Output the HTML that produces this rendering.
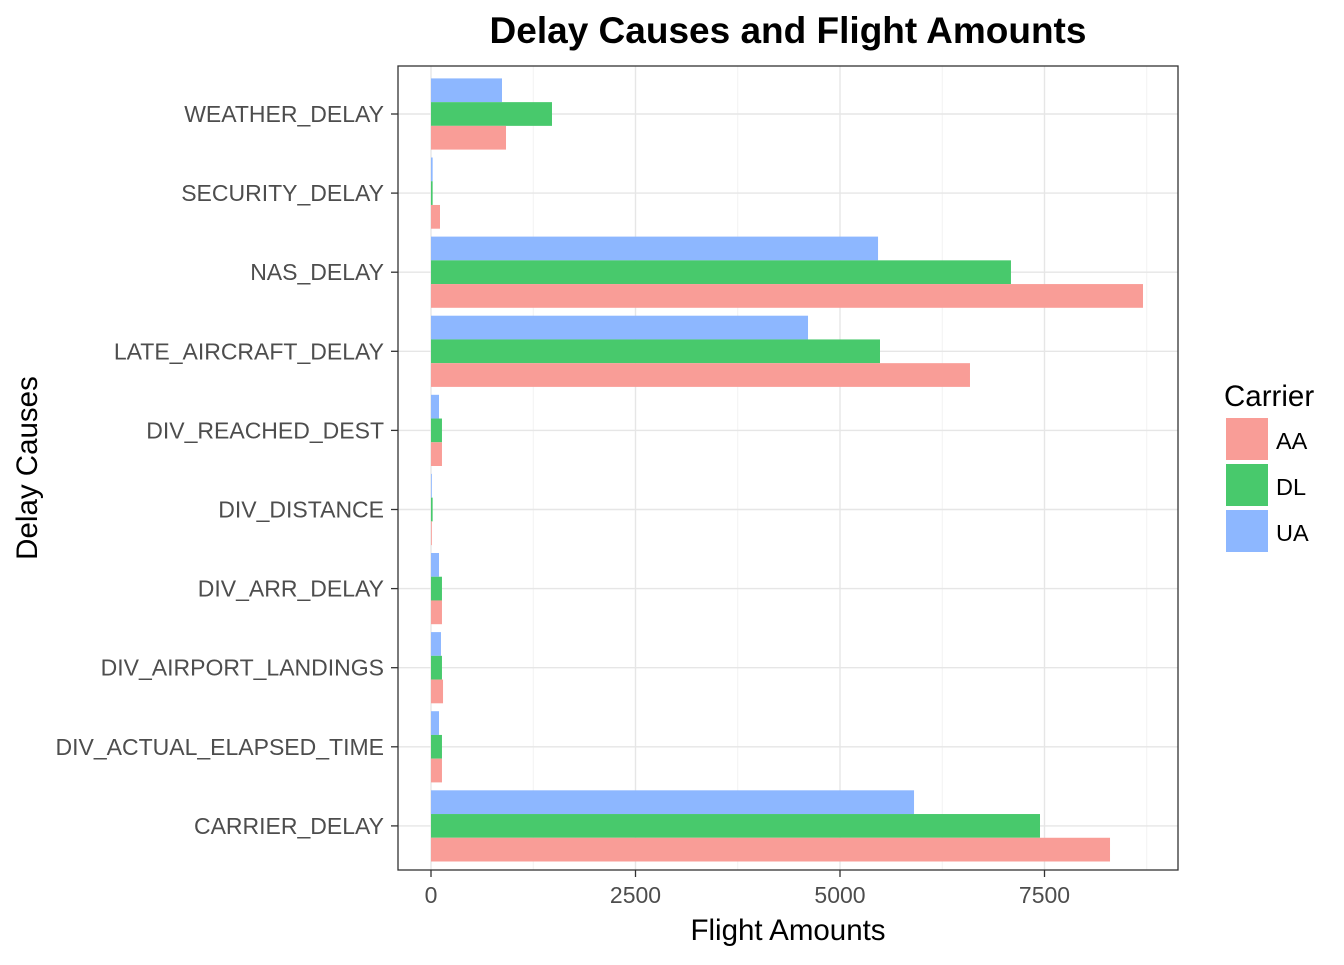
<!DOCTYPE html>
<html><head><meta charset="utf-8"><style>
body{margin:0;background:#fff;font-family:"Liberation Sans",Arial,sans-serif;}
</style></head><body>
<svg id="chart" width="1344" height="960" xmlns="http://www.w3.org/2000/svg">
<text x="788" y="43" text-anchor="middle" font-size="37" font-weight="bold" fill="#000">Delay Causes and Flight Amounts</text>
<g id="grid"></g>
<g id="bars"></g>
<rect x="398" y="66" width="780" height="804" fill="none" stroke="#333" stroke-width="1.3"/>
<g id="axes"></g>
<text x="788" y="940" text-anchor="middle" font-size="29.5" fill="#000">Flight Amounts</text>
<text transform="translate(37,468) rotate(-90)" text-anchor="middle" font-size="29.5" fill="#000">Delay Causes</text>
<g>
<text x="1224" y="406" font-size="29.5" fill="#000">Carrier</text>
<rect x="1226" y="418" width="42" height="42" fill="#f99d97"/>
<text x="1276" y="449" font-size="23.5">AA</text>
<rect x="1226" y="464" width="42" height="42" fill="#48c96c"/>
<text x="1276" y="495" font-size="23.5">DL</text>
<rect x="1226" y="510" width="42" height="42" fill="#8db7ff"/>
<text x="1276" y="541" font-size="23.5">UA</text>
</g>
</svg>
<script>
const categories=["WEATHER_DELAY","SECURITY_DELAY","NAS_DELAY","LATE_AIRCRAFT_DELAY","DIV_REACHED_DEST","DIV_DISTANCE","DIV_ARR_DELAY","DIV_AIRPORT_LANDINGS","DIV_ACTUAL_ELAPSED_TIME","CARRIER_DELAY"];
const uaValues=[868,20,5465,4609,98,10,98,122,98,5905];
const dlValues=[1479,20,7090,5489,134,20,134,134,134,7445];
const aaValues=[917,110,8704,6589,134,10,134,147,134,8301];
const xTicks=[0,2500,5000,7500];
const xTickLabels=["0","2500","5000","7500"];
const NS="http://www.w3.org/2000/svg";
const x0=431,pxPerUnit=204.5/2500;
const xs=v=>x0+v*pxPerUnit;
const yTop=114,step=79.1;
const ys=i=>yTop+i*step;
const band=step*0.9,bw=band/3;
function mk(tag,attrs,parent){const e=document.createElementNS(NS,tag);for(const k in attrs)e.setAttribute(k,attrs[k]);parent.appendChild(e);return e;}
const grid=document.getElementById('grid'),bars=document.getElementById('bars'),axes=document.getElementById('axes');
for(let i=0;i<xTicks.length;i++){
 const m=xTicks[i]+1250;
 if(xs(m)<1178){const l=mk('line',{x1:xs(m),x2:xs(m),y1:66,y2:870,stroke:'#f2f2f2','stroke-width':1},grid);
 
 }
}
for(let i=0;i<xTicks.length;i++){
 const l=mk('line',{x1:xs(xTicks[i]),x2:xs(xTicks[i]),y1:66,y2:870,stroke:'#e6e6e6','stroke-width':1.4},grid);
 
 
 const t=mk('line',{x1:xs(xTicks[i]),x2:xs(xTicks[i]),y1:870,y2:877,stroke:'#333','stroke-width':1.3},axes);
 
 
 const tx=mk('text',{x:xs(xTicks[i]),y:903,'text-anchor':'middle','font-size':23,fill:'#4d4d4d'},axes);
 tx.textContent=xTickLabels[i];
 
 
}
const series=[[uaValues,'#8db7ff','ua'],[dlValues,'#48c96c','dl'],[aaValues,'#f99d97','aa']];
for(let i=0;i<categories.length;i++){
 const y=ys(i);
 const g=mk('line',{x1:398,x2:1178,y1:y,y2:y,stroke:'#e6e6e6','stroke-width':1.4},grid);
 
 
 const t=mk('line',{x1:391,x2:398,y1:y,y2:y,stroke:'#333','stroke-width':1.3},axes);
 
 
 const tx=mk('text',{x:384,y:y+8,'text-anchor':'end','font-size':23,fill:'#4d4d4d'},axes);
 tx.textContent=categories[i];
 
 
 for(let s=0;s<3;s++){
  const v=series[s][0][i];
  const r=mk('rect',{x:x0,y:y-band/2+s*bw,width:Math.max(0,xs(v)-x0),height:bw,fill:series[s][1]},bars);
  
  
 }
}
</script>
</body></html>
